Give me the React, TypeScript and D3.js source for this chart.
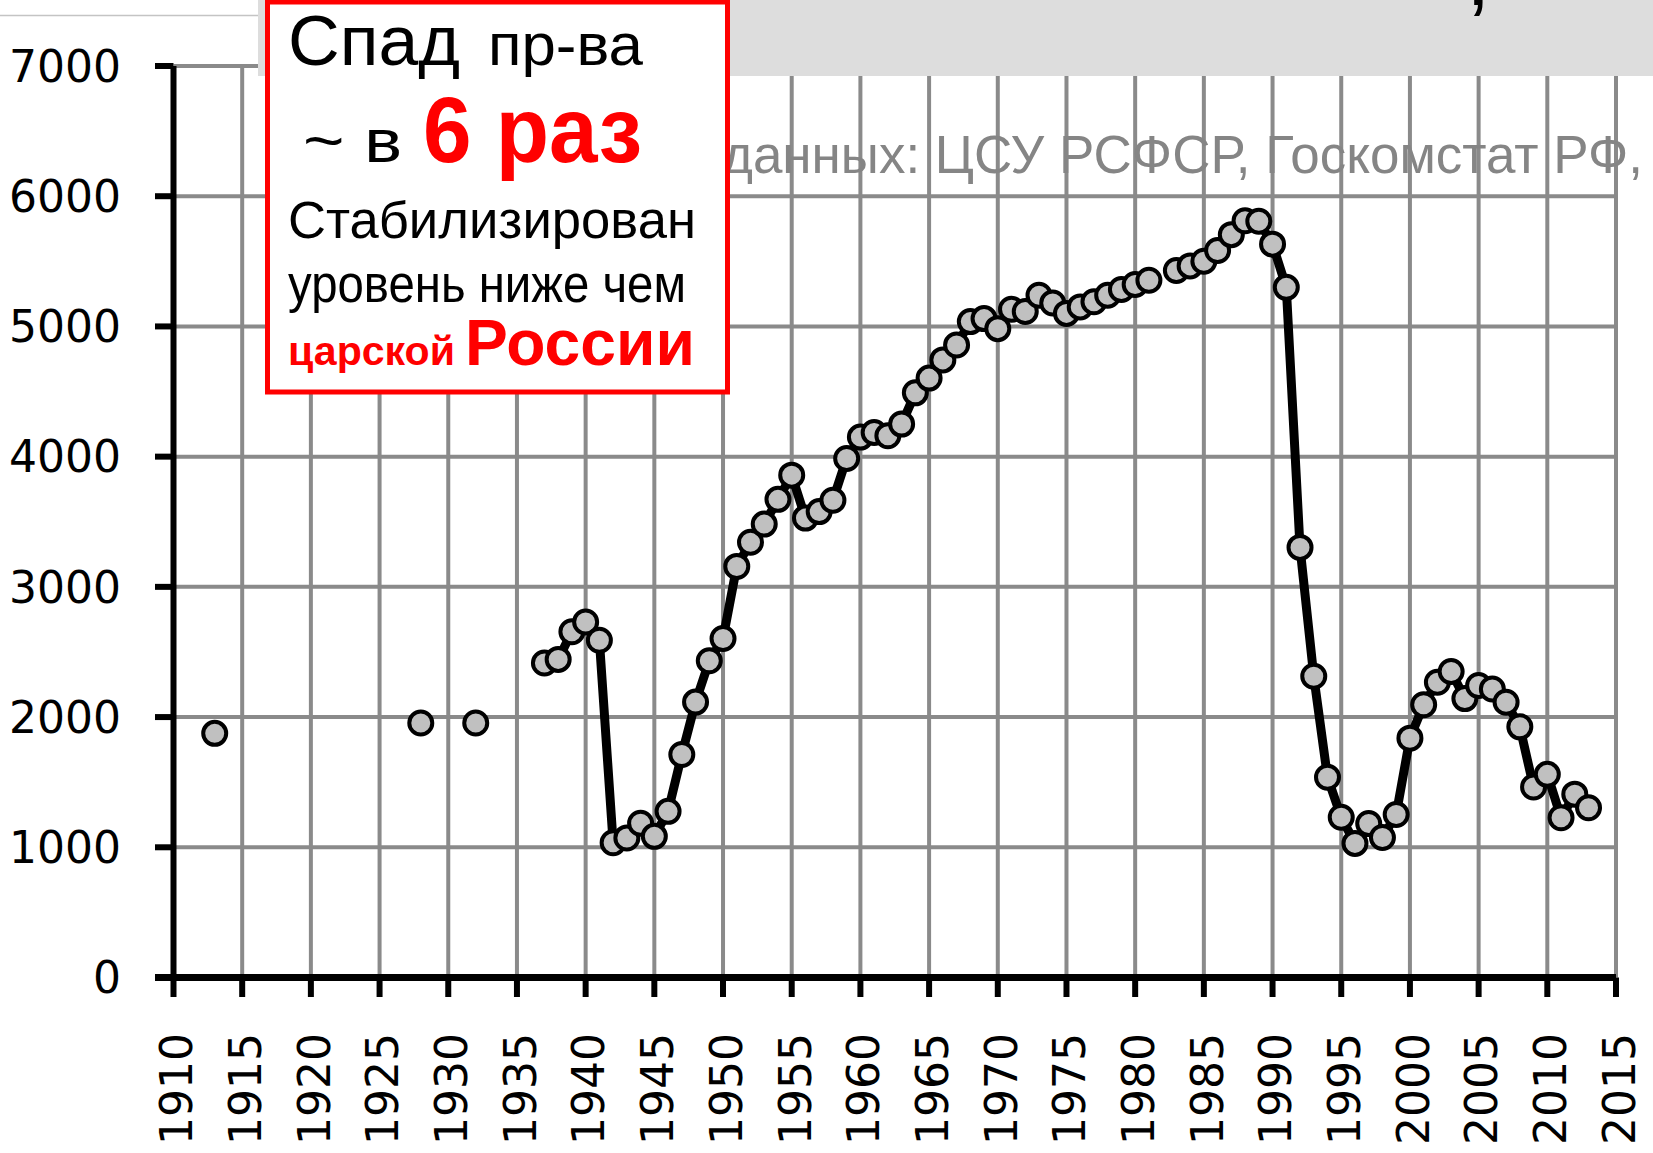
import React from "react";
import * as d3 from "d3";

// ---- data ----
const years: number[] = [
  1913, 1928, 1932,
  1937, 1938, 1939, 1940, 1941, 1942, 1943, 1944, 1945, 1946, 1947, 1948, 1949,
  1950, 1951, 1952, 1953, 1954, 1955, 1956, 1957, 1958, 1959,
  1960, 1961, 1962, 1963, 1964, 1965, 1966, 1967, 1968, 1969,
  1970, 1971, 1972, 1973, 1974, 1975, 1976, 1977, 1978, 1979,
  1980, 1981, 1983, 1984, 1985, 1986, 1987, 1988, 1989,
  1990, 1991, 1992, 1993, 1994, 1995, 1996, 1997, 1998, 1999,
  2000, 2001, 2002, 2003, 2004, 2005, 2006, 2007, 2008, 2009,
  2010, 2011, 2012, 2013,
];
const values: number[] = [
  1875, 1955, 1955,
  2415, 2443, 2655, 2730, 2590, 1035, 1072, 1185, 1084, 1276, 1712, 2115, 2432,
  2603, 3157, 3343, 3482, 3672, 3858, 3528, 3578, 3665, 3986,
  4150, 4186, 4160, 4250, 4490, 4603, 4743, 4857, 5037, 5060,
  4983, 5132, 5115, 5240, 5180, 5100, 5150, 5190, 5240, 5283,
  5322, 5355, 5430, 5465, 5500, 5583, 5705, 5811, 5808,
  5632, 5300, 3303, 2313, 1538, 1231, 1030, 1182, 1075, 1252,
  1838, 2095, 2268, 2350, 2142, 2243, 2215, 2114, 1925, 1463,
  1560, 1227, 1408, 1304,
];
const yTicks: number[] = [0, 1000, 2000, 3000, 4000, 5000, 6000, 7000];
const xTicks: number[] = d3.range(1910, 2016, 5);
const sourceText = "данных: ЦСУ РСФСР, Госкомстат РФ,";

const W = 1653;
const H = 1153;

export default function App() {
  const x = d3.scaleLinear().domain([1910, 2015]).range([173.5, 1616]);
  const y = d3.scaleLinear().domain([0, 7000]).range([977.5, 66]);

  const byYear = new Map<number, number>();
  years.forEach((yr, i) => byYear.set(yr, values[i]));
  const full = d3.range(1910, 2016).map((yr) => ({ yr, v: byYear.has(yr) ? byYear.get(yr)! : null }));
  const line = d3
    .line<{ yr: number; v: number | null }>()
    .defined((d) => d.v !== null)
    .x((d) => x(d.yr))
    .y((d) => y(d.v as number));

  const grid = "#8a8a8a";
  const tickFont = "'DejaVu Sans', Verdana, sans-serif";
  const boxFont = "'Liberation Sans', Arial, sans-serif";

  return (
    <svg
      width={W}
      height={H}
      style={{ position: "absolute", left: 0, top: 0, background: "#fff" }}
    >
      <rect x={0} y={0} width={W} height={H} fill="#fff" />
      {/* horizontal gridlines */}
      {yTicks.filter((t) => t > 0).map((t) => (
        <line key={"hg" + t} x1={x(1910)} x2={x(2015)} y1={y(t)} y2={y(t)} stroke={grid} strokeWidth={4} />
      ))}
      {/* vertical gridlines */}
      {xTicks.filter((t) => t > 1910).map((t) => (
        <line key={"vg" + t} x1={x(t)} x2={x(t)} y1={y(7000)} y2={y(0)} stroke={grid} strokeWidth={4} />
      ))}

      {/* top gray band and thin line */}
      <rect x={258} y={0} width={W - 258} height={76} fill="#dddddd" />
      <line x1={0} x2={258} y1={15.5} y2={15.5} stroke="#c4c4c4" strokeWidth={1.5} />
      <text x={1466} y={5} fontFamily={boxFont} fontSize={88} fill="#000">,</text>

      {/* source text */}
      <text
        x={722}
        y={173}
        fontFamily={boxFont}
        fontSize={53}
        fill="#858585"
        textLength={1643 - 722}
        lengthAdjust="spacingAndGlyphs"
      >
        {sourceText}
      </text>

      {/* axes */}
      <line x1={x(1910)} x2={x(1910)} y1={y(7000)} y2={y(0)} stroke="#000" strokeWidth={6} />
      <line x1={155} x2={x(2015)} y1={y(0)} y2={y(0)} stroke="#000" strokeWidth={7} />
      {yTicks.map((t) => (
        <g key={"yt" + t}>
          <line x1={155} x2={x(1910)} y1={y(t)} y2={y(t)} stroke="#000" strokeWidth={6} />
          <text
            x={121}
            y={y(t)}
            dy="0.36em"
            textAnchor="end"
            fontFamily={tickFont}
            fontSize={44}
            fill="#000"
          >
            {t}
          </text>
        </g>
      ))}
      {xTicks.map((t) => (
        <g key={"xt" + t}>
          <line x1={x(t)} x2={x(t)} y1={y(0)} y2={997} stroke="#000" strokeWidth={6} />
          <text
            transform={`translate(${x(t) + 3},1033) rotate(-90)`}
            dy="0.36em"
            textAnchor="end"
            fontFamily={tickFont}
            fontSize={44}
            fill="#000"
          >
            {t}
          </text>
        </g>
      ))}

      {/* data line and markers */}
      <path d={line(full) || ""} fill="none" stroke="#000" strokeWidth={9} strokeLinejoin="round" />
      {years.map((yr, i) => (
        <circle key={"p" + yr} cx={x(yr)} cy={y(values[i])} r={11.5} fill="#c0c0c0" stroke="#000" strokeWidth={4} />
      ))}

      {/* annotation box */}
      <rect x={267.5} y={2} width={460} height={390} fill="#fff" stroke="#ff0000" strokeWidth={5} />
      <g fontFamily={boxFont}>
        <text x={288} y={65} fontSize={70} fill="#000" textLength={172} lengthAdjust="spacingAndGlyphs">Спад</text>
        <text x={488} y={65} fontSize={60} fill="#000" textLength={155} lengthAdjust="spacingAndGlyphs">пр-ва</text>
        <text x={303} y={162} fontSize={62} fill="#000" textLength={99} lengthAdjust="spacingAndGlyphs">~ в</text>
        <text x={423} y={162} fontSize={92} fontWeight="bold" fill="#ff0000" textLength={219} lengthAdjust="spacingAndGlyphs">6 раз</text>
        <text x={288} y={238} fontSize={51} fill="#000" textLength={408} lengthAdjust="spacingAndGlyphs">Стабилизирован</text>
        <text x={288} y={302} fontSize={51} fill="#000" textLength={398} lengthAdjust="spacingAndGlyphs">уровень ниже чем</text>
        <text x={288} y={365} fontSize={41} fontWeight="bold" fill="#ff0000" textLength={167} lengthAdjust="spacingAndGlyphs">царской</text>
        <text x={465} y={365} fontSize={64} fontWeight="bold" fill="#ff0000" textLength={230} lengthAdjust="spacingAndGlyphs">России</text>
      </g>
    </svg>
  );
}
